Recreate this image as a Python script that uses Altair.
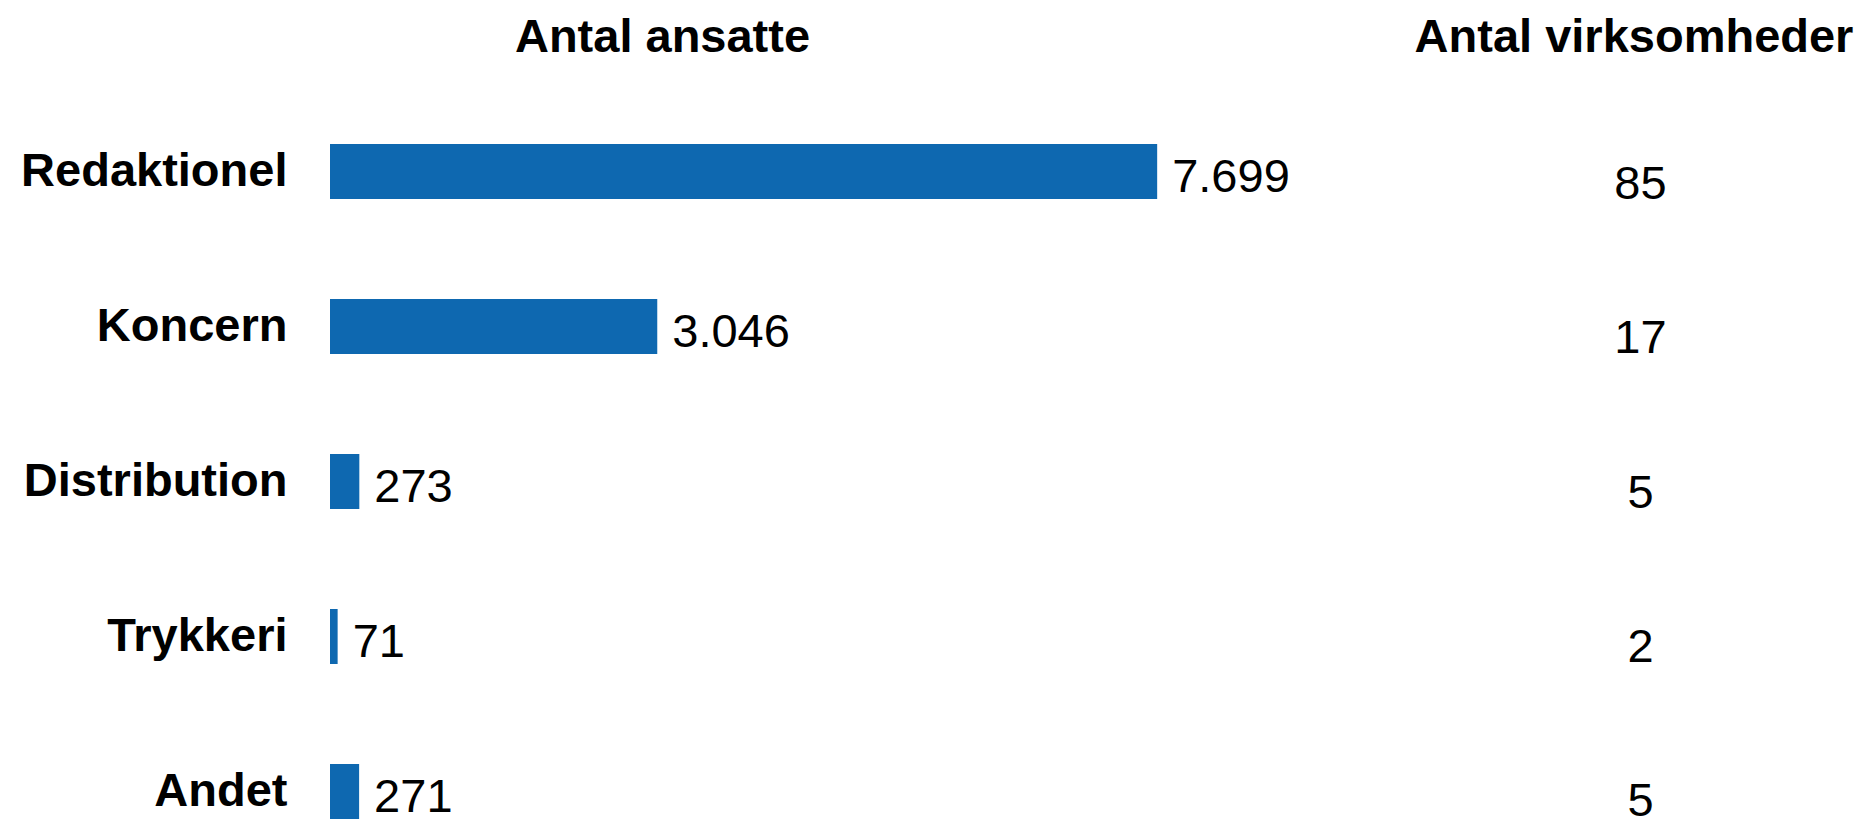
import altair as alt
import pandas as pd

categories = ["Redaktionel", "Koncern", "Distribution", "Trykkeri", "Andet"]
ansatte = [7699, 3046, 273, 71, 271]
virksomheder = [85, 17, 5, 2, 5]
headers = ["Antal ansatte", "Antal virksomheder"]

labels = [f"{v:,}".replace(",", ".") for v in ansatte]

df = pd.DataFrame({
    "Kategori": categories,
    "Ansatte": ansatte,
    "Label": labels,
    "Virksomheder": [str(v) for v in virksomheder],
})

FONT = "Liberation Sans"
FS = 47
BLUE = "#0E68B0"

band_scale = alt.Scale(range=[86, 861], paddingInner=0.645, paddingOuter=0.3225)
x_enc = alt.X("Ansatte:Q", scale=alt.Scale(domain=[0, 14250]), axis=None)

base = alt.Chart(df)

bars = base.mark_bar(color=BLUE).encode(
    x=x_enc,
    y=alt.Y(
        "Kategori:N",
        sort=categories,
        title=None,
        scale=band_scale,
        axis=alt.Axis(
            labelFont=FONT,
            labelFontSize=FS,
            labelFontWeight="bold",
            labelColor="black",
            labelPadding=43,
            ticks=False,
            tickSize=0,
            domain=False,
            grid=False,
            labelLimit=500,
        ),
    ),
)

values = base.mark_text(
    align="left", baseline="middle", dx=15, dy=6, font=FONT, fontSize=FS, color="black"
).encode(
    x=x_enc,
    y=alt.Y("Kategori:N", sort=categories, title=None, scale=band_scale),
    text="Label:N",
)

left = alt.layer(bars, values)

right = base.mark_text(
    align="center", baseline="middle", font=FONT, fontSize=FS, color="black"
).encode(
    x=alt.value(1310.5),
    y=alt.Y(
        "Kategori:N",
        sort=categories,
        axis=None,
        scale=alt.Scale(type="point", range=[177, 794], padding=0),
    ),
    text="Virksomheder:N",
)

h1 = alt.Chart(pd.DataFrame({"h": [headers[0]]})).mark_text(
    align="center", baseline="alphabetic", font=FONT, fontSize=FS, fontWeight="bold", color="black"
).encode(text="h:N", x=alt.value(332.5), y=alt.value(44))

h2 = alt.Chart(pd.DataFrame({"h": [headers[1]]})).mark_text(
    align="center", baseline="alphabetic", font=FONT, fontSize=FS, fontWeight="bold", color="black"
).encode(text="h:N", x=alt.value(1304), y=alt.value(44))

chart = (
    alt.layer(left, right, h1, h2)
    .resolve_scale(y="independent")
    .properties(
        width=1531,
        height=818,
        autosize=alt.AutoSizeParams(type="none"),
        padding={"left": 322, "top": 0, "right": 0, "bottom": 0},
        background="white",
    )
    .configure_view(stroke=None)
)

chart.save("out.html", embed_options={"renderer": "svg", "actions": False})
